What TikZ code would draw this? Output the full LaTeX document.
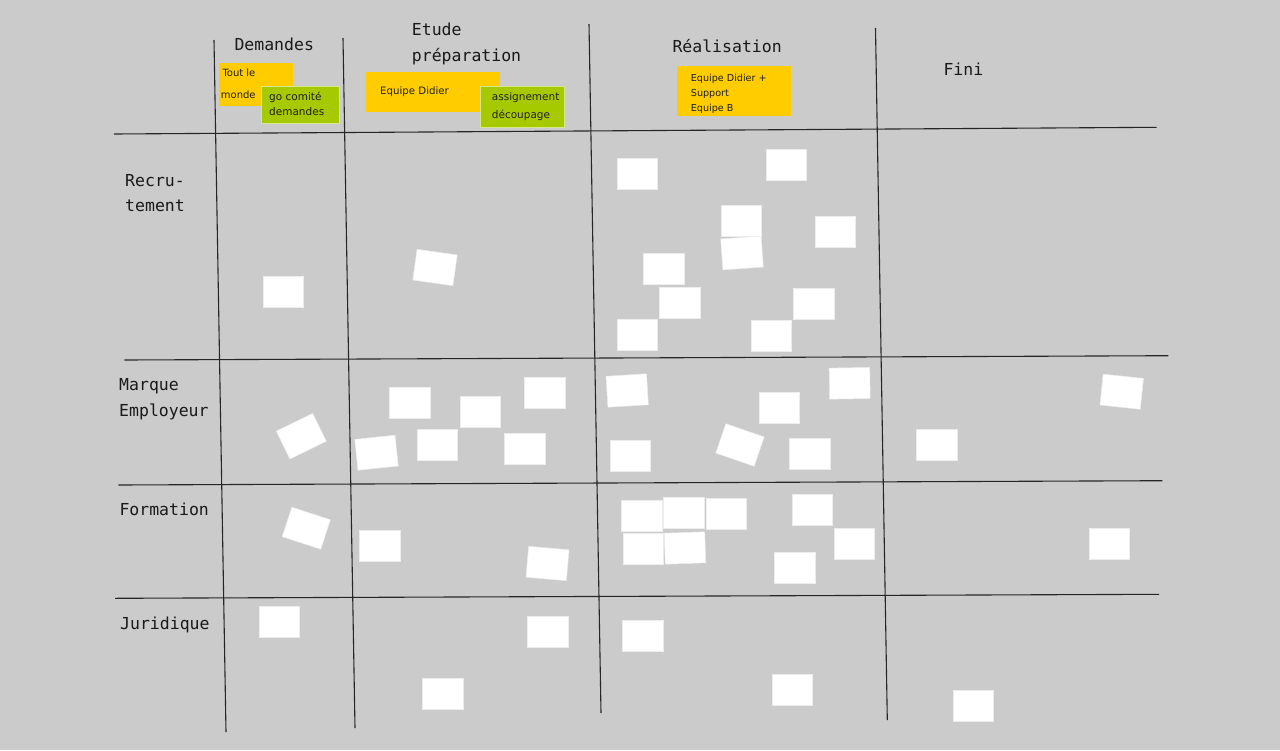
\documentclass[tikz,border=0pt]{standalone}
\usepackage{fontspec}
\setmainfont{DejaVu Sans}
\newfontfamily\monofont{DejaVu Sans Mono}
\definecolor{bgcol}{RGB}{203,203,203}
\definecolor{stickyyellow}{RGB}{255,204,0}
\definecolor{stickygreen}{RGB}{166,202,0}
\definecolor{gridline}{RGB}{38,38,38}
\tikzset{
  card/.style={fill=white, draw=white!93!black, line width=0.5pt, minimum width=40.5pt, minimum height=31pt, inner sep=0pt, outer sep=0pt},
  hdr/.style={font=\monofont\fontsize{16.5}{20}\selectfont, inner sep=0pt, anchor=base west, text=black!90},
  grid/.style={draw=gridline, line width=1.1pt},
  ytag/.style={fill=stickyyellow},
  gtag/.style={fill=stickygreen, draw=stickygreen!45!white, line width=0.8pt},
  tagtext/.style={inner sep=0pt, anchor=base west, text=black!88},
}
\begin{document}
\begin{tikzpicture}[x=1pt,y=-1pt]
\fill[bgcol] (0,0) rectangle (1280,750);
\useasboundingbox (0,0) rectangle (1280,750);

% grid lines
\coordinate (v1a) at (214,40);   \coordinate (v1b) at (226,732);
\coordinate (v2a) at (343,38);   \coordinate (v2b) at (355,728);
\coordinate (v3a) at (589,24);   \coordinate (v3b) at (601,713);
\coordinate (v4a) at (875.5,28); \coordinate (v4b) at (887.3,720);
\coordinate (h1a) at (114,134);  \coordinate (h1b) at (1156.7,127.3);
\coordinate (h2a) at (124.3,360);\coordinate (h2b) at (1168.3,355.7);
\coordinate (h3a) at (118.3,485);\coordinate (h3b) at (1162.3,480.7);
\coordinate (h4a) at (115,598.3);\coordinate (h4b) at (1159,594.3);
\draw[grid] (v1a) -- (v1b);
\draw[grid] (v2a) -- (v2b);
\draw[grid] (v3a) -- (v3b);
\draw[grid] (v4a) -- (v4b);
\draw[grid] (h1a) -- (h1b);
\draw[grid] (h2a) -- (h2b);
\draw[grid] (h3a) -- (h3b);
\draw[grid] (h4a) -- (h4b);

% column headers
\node[hdr] (hdem) at (234.3,50) {Demandes};
\node[hdr] (hetu1) at (411.7,35.7) {Etude};
\node[hdr] (hetu2) at (411.7,61.7) {préparation};
\node[hdr] (hrea) at (672.3,52.3) {Réalisation};
\node[hdr] (hfin) at (943.3,75.7) {Fini};

% row labels
\node[hdr] (rrec1) at (125,186.7) {Recru-};
\node[hdr] (rrec2) at (125,211.7) {tement};
\node[hdr] (rmar1) at (119,390.7) {Marque};
\node[hdr] (rmar2) at (119,416) {Employeur};
\node[hdr] (rfor) at (119.3,515) {Formation};
\node[hdr] (rjur) at (120,629.3) {Juridique};

% sticky tags
\fill[ytag] (219,62.7) rectangle (292.7,105.7);
\draw[gtag] (261,86) rectangle (339.3,123.7);
\node[tagtext, font=\fontsize{10}{12}\selectfont] (t1a) at (222.3,76.7) {Tout le};
\node[tagtext, font=\fontsize{10}{12}\selectfont] (t1b) at (220.7,98.3) {monde};
\node[tagtext, font=\fontsize{10.5}{12}\selectfont] (t2a) at (269,100) {go comité};
\node[tagtext, font=\fontsize{10.5}{12}\selectfont] (t2b) at (269,115.7) {demandes};

\fill[ytag] (365.7,71.7) rectangle (500,111.7);
\draw[gtag] (480,86) rectangle (564,127.7);
\node[tagtext, font=\fontsize{10.2}{12}\selectfont] (t3) at (380,94) {Equipe Didier};
\node[tagtext, font=\fontsize{10.5}{12}\selectfont] (t4a) at (491.7,100) {assignement};
\node[tagtext, font=\fontsize{10.5}{12}\selectfont] (t4b) at (491.7,118.3) {découpage};

\fill[ytag] (677.3,66) rectangle (791,116);
\node[tagtext, font=\fontsize{9.6}{12}\selectfont] (t5a) at (690.7,81) {Equipe Didier +};
\node[tagtext, font=\fontsize{9.6}{12}\selectfont] (t5b) at (690.7,96) {Support};
\node[tagtext, font=\fontsize{9.6}{12}\selectfont] (t5c) at (690.7,111.3) {Equipe B};

% cards
\foreach \cx/\cy/\rot [count=\i] in {
  283.3/292.2/0, 435/267.5/-8, 637/174/0, 786/165/0, 741/221/0, 742/253/4,
  835/232/0, 663.5/269/0, 679.5/302.5/0, 813.5/303.5/0, 637/335/0, 771/336/0,
  301.3/436.2/26, 409.8/402.5/0, 480.3/411.8/0, 544.5/392.3/0, 376.5/452.7/6,
  437.3/444.5/0, 524.7/449.2/0, 627.2/390.5/3.5, 779/408/0, 849.7/383.3/1,
  630/455.7/0, 740/445/-19, 809.5/453.7/0, 936.7/444.5/0, 1121.7/391.7/-6,
  306.3/528.2/-18, 379.5/545.5/0, 547.5/563.5/-5, 641.7/515.3/0, 683.8/513.2/0,
  726/514/0, 643/548.8/0, 685/548/2, 812/509.5/0, 854/543.5/0, 794.5/567.3/0,
  1109/543.3/0,
  279.3/622/0, 442.7/694.2/0, 547.8/631.7/0, 642.5/635.8/0, 792/690/0, 973/706.2/0}
  \node[card, rotate=\rot] (card\i) at (\cx,\cy) {};
\end{tikzpicture}
\end{document}
